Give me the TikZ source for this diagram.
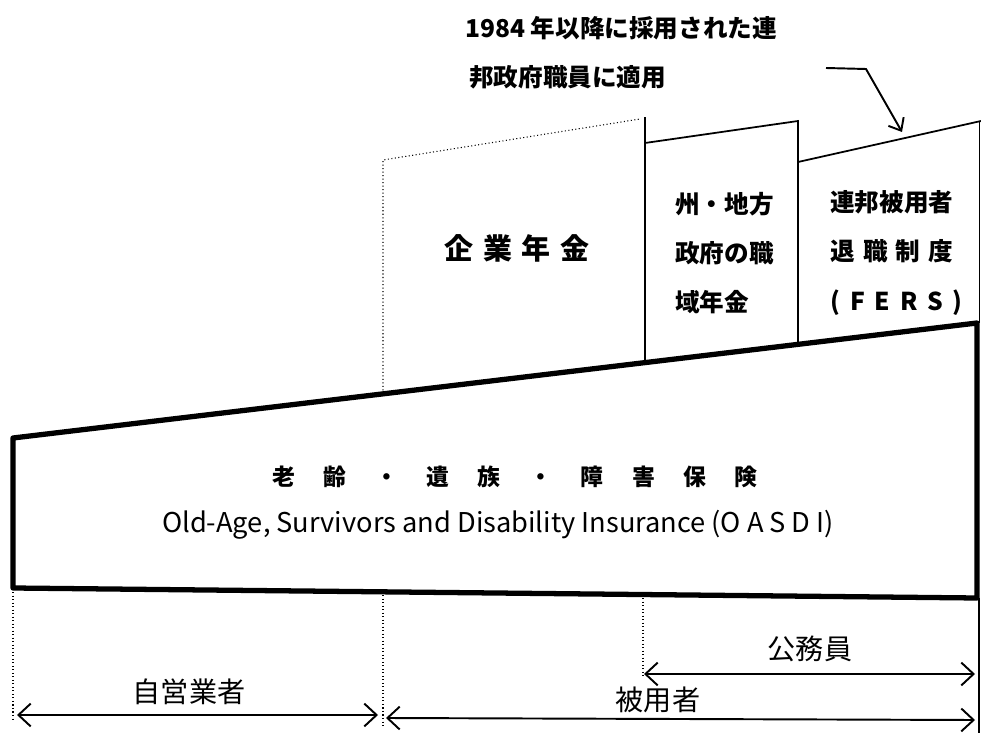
\documentclass[tikz,border=0pt]{standalone}
\usepackage{fontspec}
\setmainfont{Noto Sans CJK JP}
\usetikzlibrary{arrows.meta}
\def\jgap{\hspace{1.25em}}
\def\lsp{\hspace{.4em}}
\def\esp{\hspace{.22em}}
\def\kgap{\hspace{.33em}}
\tikzset{frame/.style={line width=3pt, line join=round}}
\tikzset{edge/.style={line width=1pt}}
\tikzset{guide/.style={line width=.6pt, dash pattern=on .6pt off 1.4pt}}
\tikzset{span/.style={line width=1.1pt, {Straight Barb[length=7pt,width=13pt]}-{Straight Barb[length=7pt,width=13pt]}}}
\tikzset{pointer/.style={line width=1.1pt, -{Straight Barb[length=6pt,width=10pt]}}}
\tikzset{boxtext/.style={font=\bfseries\fontsize{14}{28}\selectfont, align=left, anchor=west, inner sep=0pt}}
\tikzset{grouptext/.style={font=\fontsize{16}{18}\selectfont, inner sep=0pt}}
\tikzset{notetext/.style={font=\bfseries\fontsize{14}{16}\selectfont, anchor=west, inner sep=0pt}}
\begin{document}
\begin{tikzpicture}[x=0.02cm, y=-0.02cm]
        \useasboundingbox (0,0) rectangle (981,733);
        % OASDI base
        \coordinate (baseTL) at (13,438);
        \coordinate (baseTR) at (977,323);
        \coordinate (baseBR) at (977,598);
        \coordinate (baseBL) at (13,588);
        \draw[frame] (baseBL) -- (baseTL) -- (baseTR) -- (baseBR) -- cycle;
        % Company pensions (dotted)
        \draw[guide] (383,394) -- (383,160) -- (640,119);
        % State and local
        \draw[edge] (645,363) -- (645,117);
        \draw[edge] (645,143) -- (798,121) -- (798,345);
        % FERS
        \draw[edge] (798,162) -- (981,121);
        \draw[line width=.5pt] (979,122) -- (979,323);
        % Guides under the base
        \draw[guide] (13,592) -- (13,722);
        \draw[guide] (383,595) -- (383,728);
        \draw[guide] (643,598) -- (643,676);
        \draw[line width=.6pt] (979,598) -- (979,733);
        % Texts
        \node[font=\bfseries\fontsize{16.5}{20}\selectfont] (kigyo) at (517,248) {企\kgap 業\kgap 年\kgap 金};
        \node[boxtext] (shu) at (675,253) {州・地方\\政府の職\\域年金};
        \node[boxtext] (fers) at (830,253) {連邦被用者\\退\kgap 職\kgap 制\kgap 度\\(\lsp F\lsp E\lsp R\lsp S\lsp)};
        \node[font=\bfseries\fontsize{13}{16}\selectfont] (oasdiJ) at (515,477) {老\jgap 齢\jgap ・\jgap 遺\jgap 族\jgap ・\jgap 障\jgap 害\jgap 保\jgap 険};
        \node[font=\fontsize{15.5}{18}\selectfont] (oasdiE) at (498,525) {Old-Age, Survivors and Disability Insurance (O\esp A\esp S\esp D\esp I)};
        \node[notetext] (note1) at (465,28) {1984 年以降に採用された連};
        \node[notetext] (note2) at (469,77) {邦政府職員に適用};
        % Pointer to FERS
        \coordinate (ptrStart) at (826,68);
        \coordinate (ptrTip) at (902,132);
        \draw[pointer] (ptrStart) -- (866,69) -- (ptrTip);
        % Coverage spans
        \coordinate (selfL) at (17,715);
        \coordinate (selfR) at (378,715);
        \coordinate (empL) at (386,718);
        \coordinate (empR) at (975,720);
        \coordinate (pubL) at (644,674);
        \coordinate (pubR) at (975,674);
        \draw[span] (selfL) -- (selfR);
        \draw[span] (empL) -- (empR);
        \draw[span] (pubL) -- (pubR);
        \node[grouptext] (self) at (189,692) {自営業者};
        \node[grouptext] (emp) at (658,700) {被用者};
        \node[grouptext] (pub) at (810,649) {公務員};
\end{tikzpicture}
\end{document}
